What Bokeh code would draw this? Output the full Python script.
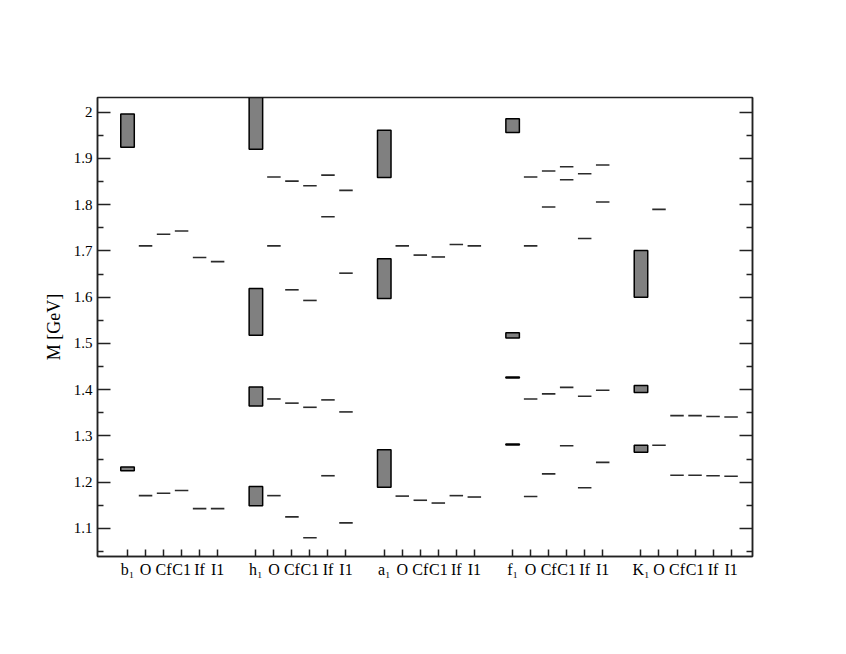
from bokeh.plotting import figure
from bokeh.models import FixedTicker, LinearAxis, PrintfTickFormatter, ColumnDataSource
from bokeh.embed import file_html
from bokeh.resources import INLINE

# ---- data ----
groups = ["b\u2081", "h\u2081", "a\u2081", "f\u2081", "K\u2081"]
models = ["O", "Cf", "C1", "If", "I1"]

# experimental mass bands (group index, low, high) in GeV
exp_group = [0, 0, 1, 1, 1, 1, 2, 2, 2, 3, 3, 3, 3, 4, 4, 4]
exp_low = [1.924, 1.225, 1.920, 1.518, 1.365, 1.149, 1.859, 1.597, 1.189,
           1.956, 1.512, 1.4255, 1.2807, 1.600, 1.394, 1.265]
exp_high = [1.996, 1.233, 2.100, 1.619, 1.406, 1.191, 1.961, 1.683, 1.270,
            1.986, 1.523, 1.4275, 1.2827, 1.701, 1.409, 1.280]

# model predictions, one list per group (b1, h1, a1, f1, K1)
mass_O = [[1.711, 1.171], [1.860, 1.711, 1.380, 1.171], [1.711, 1.170],
          [1.860, 1.711, 1.380, 1.169], [1.790, 1.280]]
mass_Cf = [[1.736, 1.176], [1.851, 1.616, 1.371, 1.125], [1.691, 1.161],
           [1.873, 1.795, 1.391, 1.218], [1.344, 1.215]]
mass_C1 = [[1.743, 1.182], [1.841, 1.593, 1.362, 1.080], [1.687, 1.155],
           [1.882, 1.854, 1.405, 1.279], [1.344, 1.215]]
mass_If = [[1.686, 1.143], [1.864, 1.774, 1.378, 1.214], [1.714, 1.171],
           [1.867, 1.727, 1.386, 1.188], [1.342, 1.214]]
mass_I1 = [[1.677, 1.143], [1.831, 1.652, 1.352, 1.112], [1.711, 1.168],
           [1.886, 1.806, 1.399, 1.243], [1.341, 1.213]]
model_masses = [mass_O, mass_Cf, mass_C1, mass_If, mass_I1]

y_ticks = [1.1, 1.2, 1.3, 1.4, 1.5, 1.6, 1.7, 1.8, 1.9, 2.0]
y_minor = [1.05, 1.15, 1.25, 1.35, 1.45, 1.55, 1.65, 1.75, 1.85, 1.95]

# ---- layout of the categorical x axis ----
GROUP_STEP = 7.125
def xpos(g, k):
    return g * GROUP_STEP + k

FONT = "Liberation Serif"

p = figure(width=830, height=638, x_range=(-1.667, 34.69), y_range=(1.0394, 2.0318),
           output_backend="svg", toolbar_location=None,
           min_border_left=97, min_border_right=78, min_border_top=97, min_border_bottom=82,
           y_axis_label="M [GeV]")
p.grid.visible = False
p.outline_line_color = "#222222"
p.outline_line_width = 1.5
p.background_fill_color = "white"
p.border_fill_color = "white"

# experimental boxes
exp_src = ColumnDataSource(dict(x=[xpos(g, 0) for g in exp_group], bottom=exp_low, top=exp_high))
p.vbar(x="x", width=0.75, bottom="bottom", top="top", source=exp_src,
       fill_color="#808080", line_color="black", line_width=1.5)

# theoretical lines
tx, ty = [], []
for k, mm in enumerate(model_masses):
    for g, vals in enumerate(mm):
        for v in vals:
            tx.append(xpos(g, k + 1))
            ty.append(v)
p.scatter(tx, ty, marker="dash", size=13.5, line_color="#2b2b2b", line_width=1.6)

# x axis
xt, xl = [], {}
for g, name in enumerate(groups):
    for k, lab in enumerate([name] + models):
        pos = xpos(g, k)
        xt.append(pos)
        xl[pos] = lab
xa = p.xaxis[0]
xa.ticker = FixedTicker(ticks=xt)
xa.major_label_overrides = xl
xa.major_tick_in = 7
xa.major_tick_out = 0
xa.minor_tick_in = 0
xa.minor_tick_out = 0
xa.major_label_standoff = 4
xa.major_label_text_font = FONT
xa.major_label_text_font_size = "16px"
xa.major_label_text_color = "black"
xa.axis_line_color = "#222222"
xa.axis_line_width = 1.5
xa.major_tick_line_color = "#222222"
xa.major_tick_line_width = 1.5

# y axis (left)
ya = p.yaxis[0]
ya.ticker = FixedTicker(ticks=y_ticks, minor_ticks=y_minor)
ya.formatter = PrintfTickFormatter(format="%g")
ya.major_tick_in = 13
ya.major_tick_out = 0
ya.minor_tick_in = 6
ya.minor_tick_out = 0
ya.major_label_standoff = 5
ya.major_label_text_font = FONT
ya.major_label_text_font_size = "15px"
ya.major_label_text_color = "black"
ya.axis_label_text_font = FONT
ya.axis_label_text_font_style = "normal"
ya.axis_label_text_font_size = "18px"
ya.axis_label_text_color = "black"
ya.axis_label_standoff = 7
ya.axis_line_color = "#222222"
ya.axis_line_width = 1.5
ya.major_tick_line_color = "#222222"
ya.major_tick_line_width = 1.5
ya.minor_tick_line_color = "#222222"
ya.minor_tick_line_width = 1.5

# mirrored ticks on the right (no labels)
ra = LinearAxis(ticker=FixedTicker(ticks=y_ticks, minor_ticks=y_minor))
ra.major_label_overrides = {t: "" for t in y_ticks}
ra.major_tick_in = 13
ra.major_tick_out = 0
ra.minor_tick_in = 6
ra.minor_tick_out = 0
ra.axis_line_color = "#222222"
ra.axis_line_width = 1.5
ra.major_tick_line_color = "#222222"
ra.major_tick_line_width = 1.5
ra.minor_tick_line_color = "#222222"
ra.minor_tick_line_width = 1.5
p.add_layout(ra, "right")

open("out.html", "w").write(file_html(p, INLINE))
